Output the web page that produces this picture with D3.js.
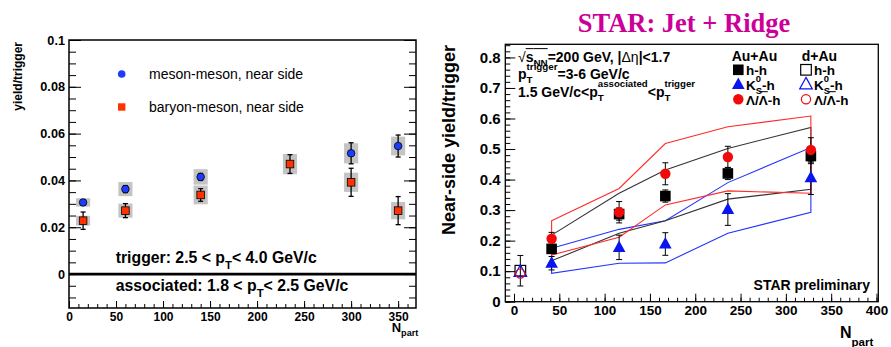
<!DOCTYPE html>
<html>
<head>
<meta charset="utf-8">
<script src="https://cdn.jsdelivr.net/npm/d3@7.9.0/dist/d3.min.js"></script>
<style>
  body { margin: 0; background: #fff; }
  svg { display: block; }
</style>
</head>
<body>
<svg id="chart" width="891" height="347"></svg>
<script>
// ---- left panel: yield/trigger vs Npart ----
const leftNpart = [15, 60, 140, 235, 300, 350];
const mesonYield = [0.0306, 0.0363, 0.0415, 0.047, 0.0516, 0.0547];
const mesonStat = [0.0010, 0.0015, 0.0015, 0.004, 0.0045, 0.0047];
const mesonSys = [0.0018, 0.003, 0.0033, 0.0043, 0.0043, 0.004];
const baryonYield = [0.0228, 0.0271, 0.0338, 0.047, 0.0392, 0.0271];
const baryonStat = [0.0037, 0.003, 0.0027, 0.004, 0.006, 0.006];
const baryonSys = [0.0021, 0.003, 0.004, 0.0043, 0.0041, 0.0037];
const leftYTicks = [0, 0.02, 0.04, 0.06, 0.08, 0.1];
const leftXTicks = [0, 50, 100, 150, 200, 250, 300, 350];

// ---- right panel: STAR jet + ridge ----
const auNpart = [41.5, 116, 167, 236, 327.6];
const hhYield = [0.173, 0.287, 0.346, 0.420, 0.477];
const hhErr = [0.015, 0.02, 0.02, 0.02, 0.025];
const k0Yield = [0.126, 0.178, 0.189, 0.302, 0.406];
const k0Err = [0.022, 0.04, 0.037, 0.052, 0.055];
const lamYield = [0.206, 0.293, 0.419, 0.474, 0.497];
const lamErr = [0.021, 0.035, 0.036, 0.035, 0.04];
const lamSysHi = [0.265, 0.371, 0.518, 0.573, 0.608];
const lamSysLo = [0.153, 0.211, 0.317, 0.363, 0.355];
const hhSysHi = [0.218, 0.355, 0.431, 0.502, 0.571];
const hhSysLo = [0.134, 0.224, 0.265, 0.336, 0.368];
const k0SysHi = [0.175, 0.237, 0.265, 0.390, 0.505];
const k0SysLo = [0.093, 0.126, 0.127, 0.224, 0.293];
const dauNpart = 7;
const dauHH = 0.1015, dauHHErr = 0.05;
const dauK0 = 0.098, dauLam = 0.092;
const rightYTicks = [0, 0.1, 0.2, 0.3, 0.4, 0.5, 0.6, 0.7, 0.8];
const rightXTicks = [0, 50, 100, 150, 200, 250, 300, 350, 400];

const FONT = '"Liberation Sans", Arial, Helvetica, sans-serif';
const svg = d3.select('#chart').attr('font-family', FONT);

// lays out text pieces left to right; an array entry is a stacked sub/sup pair
function rich(g, x, y, items, fs, weight) {
  const out = g.append('g').attr('font-weight', weight || 'bold');
  let cx = x;
  items.forEach(it => {
    const parts = Array.isArray(it) ? it : [it];
    let w = 0;
    parts.forEach(p => {
      const size = fs * (p.k || 1);
      const t = out.append('text')
        .attr('x', cx).attr('y', y + (p.dy || 0) * fs)
        .attr('font-size', size).text(p.t);
      if (p.weight) t.attr('font-weight', p.weight);
      const len = t.node().getComputedTextLength();
      if (p.ov) {
        out.append('line')
          .attr('x1', cx).attr('x2', cx + len)
          .attr('y1', y - p.ov * fs).attr('y2', y - p.ov * fs)
          .attr('stroke', 'currentColor').attr('stroke-width', 1);
      }
      w = Math.max(w, len);
    });
    cx += w;
  });
  return out;
}

function axis(g, fn, scale, values, size, fmt, pad, fs) {
  const a = g.append('g').call(fn(scale).tickValues(values).tickSize(size)
    .tickPadding(pad).tickFormat(fmt || (() => '')));
  a.select('.domain').remove();
  a.attr('font-family', FONT).attr('font-size', fs || 10).attr('font-weight', 'bold');
  a.selectAll('line').attr('stroke', '#000');
  a.selectAll('text').attr('fill', '#000');
  return a;
}

// ================= left panel =================
const xL = d3.scaleLinear().domain([0, 369]).range([69, 416]);
const yL = d3.scaleLinear().domain([-0.0145, 0.1]).range([308, 40]);
const L = svg.append('g');

const yMinorL = d3.range(-0.01, 0.1001, 0.005);
const xMinorL = d3.range(0, 361, 10);
const fmtL = d => d === 0 ? '0' : String(+d.toFixed(2));
axis(L.append('g').attr('transform', `translate(${xL.range()[0]},0)`), d3.axisLeft, yL, leftYTicks, -12, fmtL, 4, 12.7);
axis(L.append('g').attr('transform', `translate(${xL.range()[0]},0)`), d3.axisLeft, yL, yMinorL, -7);
axis(L.append('g').attr('transform', `translate(${xL.range()[1]},0)`), d3.axisRight, yL, leftYTicks, -12);
axis(L.append('g').attr('transform', `translate(${xL.range()[1]},0)`), d3.axisRight, yL, yMinorL, -7);
axis(L.append('g').attr('transform', `translate(0,${yL.range()[0]})`), d3.axisBottom, xL, leftXTicks, -7, d => d, 4, 12);
axis(L.append('g').attr('transform', `translate(0,${yL.range()[0]})`), d3.axisBottom, xL, xMinorL, -4);

L.append('rect')
  .attr('x', xL.range()[0]).attr('y', yL.range()[1])
  .attr('width', xL.range()[1] - xL.range()[0]).attr('height', yL.range()[0] - yL.range()[1])
  .attr('fill', 'none').attr('stroke', '#000').attr('stroke-width', 1.5);

L.append('line')
  .attr('x1', xL.range()[0]).attr('x2', xL.range()[1])
  .attr('y1', yL(0)).attr('y2', yL(0))
  .attr('stroke', '#000').attr('stroke-width', 2.8);

function leftSeries(vals, stat, sys, kind, color) {
  const g = L.append('g');
  leftNpart.forEach((n, i) => {
    g.append('rect')
      .attr('x', xL(n - 7.5)).attr('width', xL(n + 7.5) - xL(n - 7.5))
      .attr('y', yL(vals[i] + sys[i])).attr('height', yL(vals[i] - sys[i]) - yL(vals[i] + sys[i]))
      .attr('fill', '#c4c4c4');
  });
  leftNpart.forEach((n, i) => {
    const cx = xL(n), y1 = yL(vals[i] + stat[i]), y2 = yL(vals[i] - stat[i]);
    g.append('line').attr('x1', cx).attr('x2', cx).attr('y1', y1).attr('y2', y2)
      .attr('stroke', '#000').attr('stroke-width', 1.3);
    [y1, y2].forEach(yy => g.append('line').attr('x1', cx - 2.5).attr('x2', cx + 2.5)
      .attr('y1', yy).attr('y2', yy).attr('stroke', '#000').attr('stroke-width', 1.3));
  });
  leftNpart.forEach((n, i) => {
    if (kind === 'circle') {
      g.append('circle').attr('cx', xL(n)).attr('cy', yL(vals[i])).attr('r', 3.8)
        .attr('fill', color).attr('stroke', '#000').attr('stroke-width', 0.8);
    } else {
      g.append('rect').attr('x', xL(n) - 3.8).attr('y', yL(vals[i]) - 3.8)
        .attr('width', 7.6).attr('height', 7.6)
        .attr('fill', color).attr('stroke', '#000').attr('stroke-width', 0.8);
    }
  });
}
leftSeries(mesonYield, mesonStat, mesonSys, 'circle', '#1e3cff');
leftSeries(baryonYield, baryonStat, baryonSys, 'square', '#ff3300');

// legend
L.append('circle').attr('cx', 121.7).attr('cy', 74).attr('r', 3.8).attr('fill', '#1e3cff');
L.append('rect').attr('x', 118).attr('y', 103.3).attr('width', 7.4).attr('height', 7.4).attr('fill', '#ff3300');
L.append('text').attr('x', 149).attr('y', 79).attr('font-size', 14).text('meson-meson, near side');
L.append('text').attr('x', 149).attr('y', 112).attr('font-size', 14).text('baryon-meson, near side');

rich(L, 115.7, 263, [{ t: 'trigger: 2.5 < p' }, { t: 'T', k: 0.72, dy: 0.35 }, { t: ' < 4.0 GeV/c' }], 15.8);
rich(L, 115.7, 291, [{ t: 'associated: 1.8 < p' }, { t: 'T', k: 0.72, dy: 0.35 }, { t: ' < 2.5 GeV/c' }], 15.8);

L.append('text')
  .attr('transform', 'translate(22,42) rotate(-90)')
  .attr('text-anchor', 'end').attr('font-size', 12).attr('font-weight', 'bold')
  .text('yield/trigger');
rich(L, 391.7, 331.7, [{ t: 'N' }, { t: 'part', k: 0.7, dy: 0.35 }], 13);

// ================= right panel =================
const xR = d3.scaleLinear().domain([-9.6, 402]).range([505.3, 878.3]);
const yR = d3.scaleLinear().domain([0, 0.843]).range([301.7, 44.3]);
const R = svg.append('g');

svg.append('text')
  .attr('x', 684).attr('y', 31.7).attr('text-anchor', 'middle')
  .attr('font-family', '"Liberation Serif", "Times New Roman", serif')
  .attr('font-weight', 'bold').attr('font-size', 26.5).attr('fill', '#cc0099')
  .text('STAR: Jet + Ridge');

const fmtR = d => d === 0 ? '0' : d.toFixed(1);
axis(R.append('g').attr('transform', `translate(${xR.range()[0]},0)`), d3.axisLeft, yR, rightYTicks, -10, fmtR, 4.6, 15);
axis(R.append('g').attr('transform', `translate(${xR.range()[0]},0)`), d3.axisLeft, yR, d3.range(0, 0.841, 0.02), -5);
axis(R.append('g').attr('transform', `translate(0,${yR.range()[0]})`), d3.axisBottom, xR, rightXTicks, -8, d => d, 3.7, 13.5);
axis(R.append('g').attr('transform', `translate(0,${yR.range()[0]})`), d3.axisBottom, xR, d3.range(0, 401, 10), -4);

R.append('rect')
  .attr('x', xR.range()[0]).attr('y', yR.range()[1])
  .attr('width', xR.range()[1] - xR.range()[0]).attr('height', yR.range()[0] - yR.range()[1])
  .attr('fill', 'none').attr('stroke', '#000').attr('stroke-width', 1.3);

// systematic bands: upper line, closing edge, lower line back
function band(hi, lo, color) {
  const pts = auNpart.map((n, i) => [xR(n), yR(hi[i])])
    .concat(auNpart.map((n, i) => [xR(n), yR(lo[i])]).reverse());
  R.append('path')
    .attr('d', d3.line()(pts) + 'Z')
    .attr('fill', 'none').attr('stroke', color).attr('stroke-width', 1.1);
}
band(k0SysHi, k0SysLo, '#2233ff');
band(hhSysHi, hhSysLo, '#333333');
band(lamSysHi, lamSysLo, '#ff2a2a');

function errBar(n, v, e) {
  const cx = xR(n), y1 = yR(v + e), y2 = yR(v - e);
  R.append('line').attr('x1', cx).attr('x2', cx).attr('y1', y1).attr('y2', y2)
    .attr('stroke', '#000').attr('stroke-width', 1);
  [y1, y2].forEach(yy => R.append('line').attr('x1', cx - 3).attr('x2', cx + 3)
    .attr('y1', yy).attr('y2', yy).attr('stroke', '#000').attr('stroke-width', 1));
}
auNpart.forEach((n, i) => {
  errBar(n, hhYield[i], hhErr[i]);
  errBar(n, k0Yield[i], k0Err[i]);
  errBar(n, lamYield[i], lamErr[i]);
});
errBar(dauNpart, dauHH, dauHHErr);

const triPath = s => `M0,${-s * 0.6}L${s * 0.55},${s * 0.4}L${-s * 0.55},${s * 0.4}Z`;
function marker(g, kind, x, y, filled, color) {
  if (kind === 'square') {
    g.append('rect').attr('x', x - 5.3).attr('y', y - 5.3).attr('width', 10.6).attr('height', 10.6)
      .attr('fill', filled ? color : 'none').attr('stroke', color).attr('stroke-width', filled ? 0 : 1.2);
  } else if (kind === 'tri') {
    g.append('path').attr('transform', `translate(${x},${y})`).attr('d', triPath(11.5))
      .attr('fill', filled ? color : 'none').attr('stroke', color).attr('stroke-width', filled ? 0 : 1.2);
  } else {
    g.append('circle').attr('cx', x).attr('cy', y).attr('r', filled ? 5.2 : 4.6)
      .attr('fill', filled ? color : 'none').attr('stroke', color).attr('stroke-width', filled ? 0 : 1.2);
  }
}
auNpart.forEach((n, i) => marker(R, 'square', xR(n), yR(hhYield[i]), true, '#000'));
auNpart.forEach((n, i) => marker(R, 'tri', xR(n), yR(k0Yield[i]), true, '#0a14f0'));
auNpart.forEach((n, i) => marker(R, 'circle', xR(n), yR(lamYield[i]), true, '#f00a0a'));
marker(R, 'square', xR(dauNpart), yR(dauHH), false, '#000');
marker(R, 'tri', xR(dauNpart), yR(dauK0), false, '#0a14f0');
marker(R, 'circle', xR(dauNpart), yR(dauLam), false, '#f00a0a');

// annotations
rich(R, 518, 61.5, [{ t: '√', k: 1.0, weight: 'normal' }, { t: 's', ov: 0.92 }, { t: 'NN', k: 0.7, dy: 0.35, ov: 0.92 },
  { t: '=200 GeV, |' }, { t: 'Δη', weight: 'normal' }, { t: '|<1.7' }], 14);
rich(R, 518, 78.5, [{ t: 'p' }, [{ t: 'T', k: 0.7, dy: 0.35 }, { t: 'trigger', k: 0.7, dy: -0.6 }],
  { t: '=3-6 GeV/c' }], 14);
rich(R, 518, 96.5, [{ t: '1.5 GeV/c<p' }, [{ t: 'T', k: 0.7, dy: 0.35 }, { t: 'associated', k: 0.69, dy: -0.7 }],
  { t: '<p' }, [{ t: 'T', k: 0.7, dy: 0.35 }, { t: 'trigger', k: 0.69, dy: -0.7 }]], 14);

// legend
R.append('text').attr('x', 731.7).attr('y', 61).attr('font-size', 14).attr('font-weight', 'bold').text('Au+Au');
R.append('text').attr('x', 801.7).attr('y', 61).attr('font-size', 14).attr('font-weight', 'bold').text('d+Au');
const legRows = [
  { kind: 'square', color: '#000', y: 75, label: [{ t: 'h-h' }] },
  { kind: 'tri', color: '#0a14f0', y: 89.5, label: [{ t: 'K' }, [{ t: 'S', k: 0.7, dy: 0.35 }, { t: '0', k: 0.7, dy: -0.55 }], { t: '-h' }] },
  { kind: 'circle', color: '#f00a0a', y: 104.5, label: [{ t: 'Λ/' }, { t: 'Λ', ov: 0.95 }, { t: '-h' }] }
];
legRows.forEach(r => {
  marker(R, r.kind, 738.3, r.y - 5.2, true, r.color);
  marker(R, r.kind, 806, r.y - 5.2, false, r.color);
  rich(R, 746, r.y, r.label, 13.5);
  rich(R, 814, r.y, r.label, 13.5);
});

R.append('text').attr('x', 870).attr('y', 290).attr('text-anchor', 'end')
  .attr('font-size', 14).attr('font-weight', 'bold').text('STAR preliminary');

R.append('text')
  .attr('transform', 'translate(455,45) rotate(-90)')
  .attr('text-anchor', 'end').attr('font-size', 18).attr('font-weight', 'bold')
  .text('Near-side yield/trigger');
rich(R, 840, 338.3, [{ t: 'N' }, { t: 'part', k: 0.72, dy: 0.48 }], 16);
</script>
</body>
</html>
